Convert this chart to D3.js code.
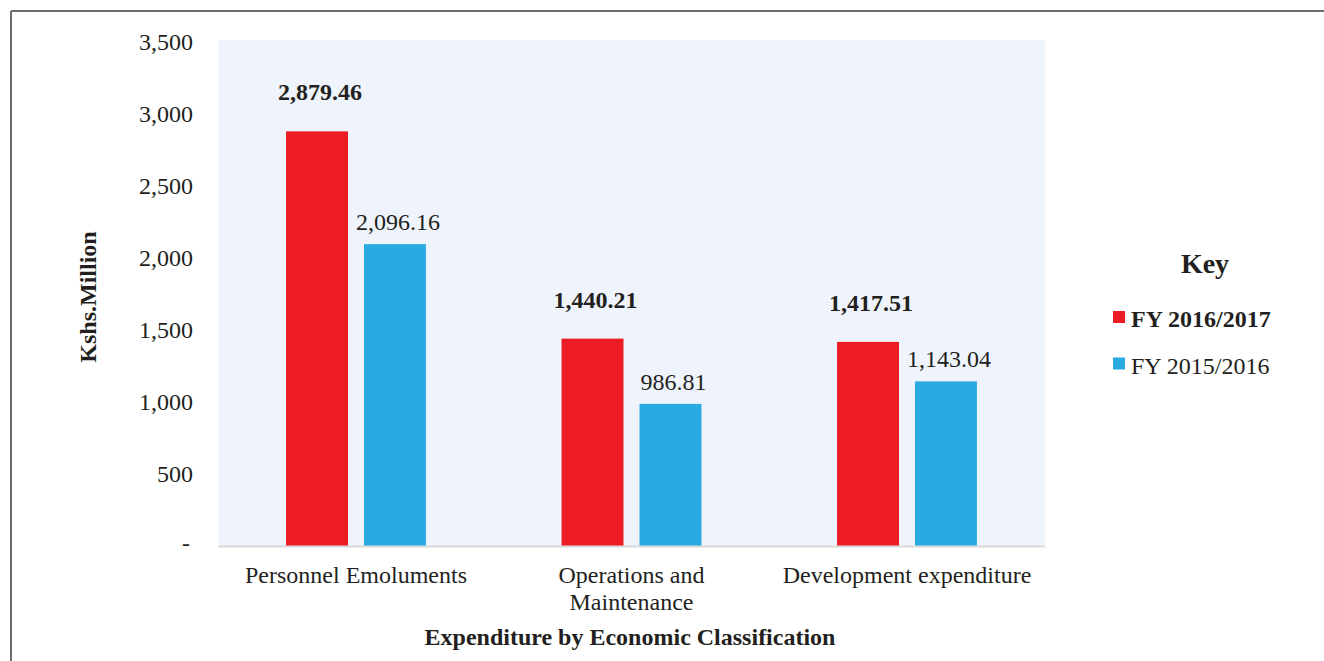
<!DOCTYPE html>
<html><head><meta charset="utf-8">
<script src="https://cdn.jsdelivr.net/npm/d3@7"></script>
<style>body{margin:0;background:#fff;} svg{display:block;} text{font-family:"Liberation Serif","Times New Roman",serif;fill:#231f20;}</style>
</head><body><svg id="c" width="1324" height="661"></svg>
<script>
const categories = ["Personnel Emoluments", "Operations and\nMaintenance", "Development expenditure"];
const seriesNames = ["FY 2016/2017", "FY 2015/2016"];
const fy2017 = [2879.46, 1440.21, 1417.51];
const fy2016 = [2096.16, 986.81, 1143.04];
const yTicks = [0, 500, 1000, 1500, 2000, 2500, 3000, 3500];
const colors = ["#ED1C24", "#29ABE2"];

const svg = d3.select("#c");
// frame
svg.append("line").attr("x1",11).attr("x2",1324).attr("y1",11).attr("y2",11).attr("stroke","#6d6d6d").attr("stroke-width",2);
svg.append("line").attr("x1",11).attr("x2",11).attr("y1",11).attr("y2",661).attr("stroke","#6d6d6d").attr("stroke-width",2);

const pLeft = 218.25, pRight = 1044.75, pTop = 42, pBottom = 546;
const x = d3.scaleBand().domain(categories).range([pLeft, pRight]);
const y = d3.scaleLinear().domain([0, 3500]).range([pBottom, pTop]);
const xs = d3.scaleBand().domain(seriesNames).range([0, x.bandwidth()]).paddingInner(0.205).paddingOuter(0.87);

svg.append("rect").attr("x", pLeft).attr("y", pTop - 2).attr("width", pRight - pLeft).attr("height", pBottom - pTop + 2).attr("fill", "#EFF4FC");

const data = categories.map((c, i) => ({cat: c, vals: [fy2017[i], fy2016[i]]}));
const g = svg.append("g");
data.forEach(d => {
  d.vals.forEach((v, j) => {
    const bx = x(d.cat) + xs(seriesNames[j]);
    g.append("rect").attr("x", bx).attr("y", y(v)).attr("width", xs.bandwidth()).attr("height", y(0) - y(v)).attr("fill", colors[j]);
    g.append("text").attr("x", bx + xs.bandwidth()/2 + 3).attr("y", y(v) - (j === 0 ? 31 : 14))
      .attr("text-anchor", "middle").attr("font-size", 24).attr("font-weight", j === 0 ? "bold" : "normal")
      .text(d3.format(",.2f")(v));
  });
});

// baseline
svg.append("line").attr("x1", pLeft).attr("x2", pRight).attr("y1", pBottom + 0.5).attr("y2", pBottom + 0.5).attr("stroke", "#d9d9d9").attr("stroke-width", 2);

// y axis
const yAxis = d3.axisLeft(y).tickValues(yTicks).tickSize(0).tickPadding(0).tickFormat(v => v === 0 ? "-" : d3.format(",")(v));
const ya = svg.append("g").attr("transform", `translate(${193},0)`).call(yAxis);
ya.select(".domain").remove();
ya.selectAll("text").attr("font-size", 24).attr("font-family", "Liberation Serif").attr("fill", "#231f20").attr("dy", "0.32em");
ya.selectAll(".tick").filter(d => d === 0).select("text").attr("x", -3).attr("dy", "0.2em");

// x axis
const xAxis = d3.axisBottom(x).tickSize(0).tickPadding(0).tickFormat("");
const xa = svg.append("g").attr("transform", `translate(0,${pBottom})`).call(xAxis);
xa.select(".domain").remove();
xa.selectAll(".tick").each(function(d) {
  const lines = d.split("\n");
  const t = d3.select(this).append("text").attr("text-anchor", "middle").attr("font-size", 24).attr("fill", "#231f20");
  lines.forEach((l, i) => t.append("tspan").attr("x", 0).attr("y", 37 + i * 27).text(l));
});

// axis titles
svg.append("text").attr("transform", "translate(96,297) rotate(-90)").attr("text-anchor", "middle")
  .attr("font-size", 24).attr("font-weight", "bold").text("Kshs.Million");
svg.append("text").attr("x", 630).attr("y", 645).attr("text-anchor", "middle")
  .attr("font-size", 24).attr("font-weight", "bold").text("Expenditure by Economic Classification");

// legend
svg.append("text").attr("x", 1205).attr("y", 273).attr("text-anchor", "middle").attr("font-size", 28).attr("font-weight", "bold").text("Key");
seriesNames.forEach((s, i) => {
  const ly = 311 + i * 46.5;
  svg.append("rect").attr("x", 1113).attr("y", ly).attr("width", 12).attr("height", 12).attr("fill", colors[i]);
  svg.append("text").attr("x", 1131).attr("y", ly + 16).attr("font-size", 24).attr("font-weight", i === 0 ? "bold" : "normal").text(s);
});
</script></body></html>
